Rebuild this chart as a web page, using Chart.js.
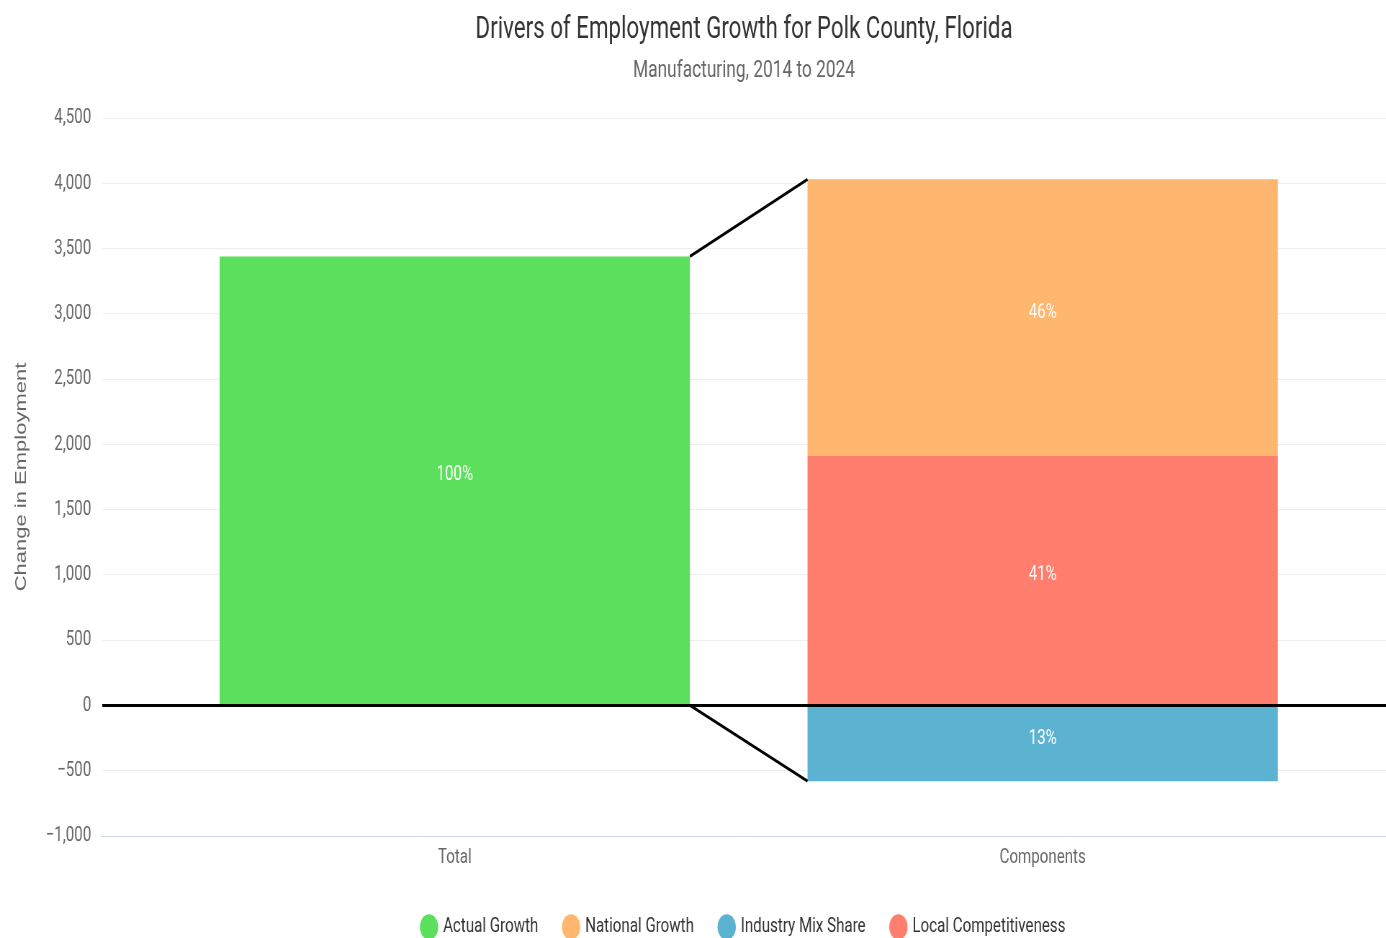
<!DOCTYPE html>
<html>
<head>
<meta charset="utf-8">
<title>Drivers of Employment Growth for Polk County, Florida</title>
<script src="https://cdn.jsdelivr.net/npm/chart.js@4.4.1/dist/chart.umd.min.js"></script>
<style>
  html, body { margin: 0; padding: 0; background: #fff; }
  #wrap { width: 1386px; height: 938px; overflow: hidden; }
  /* the reference is drawn horizontally condensed, so draw wide and squeeze */
  #chart { width: 1925px; height: 938px; transform: scaleX(0.72); transform-origin: 0 0; }
</style>
</head>
<body>
<div id="wrap"><canvas id="chart" width="1925" height="938"></canvas></div>
<script>
// Chart data
const categories = ["Total", "Components"];
const seriesNames = ["Actual Growth", "National Growth", "Industry Mix Share", "Local Competitiveness"];
const seriesColors = ["#5cdf5c", "#ffb76f", "#5cb3d1", "#ff7e6e"];

const actualGrowth = [3440];          // Total
const nationalGrowth = [2120];        // Components
const industryMixShare = [-580];      // Components
const localCompetitiveness = [1910];  // Components

const actualPct = [100];
const nationalPct = [46];
const industryPct = [13];
const localPct = [41];

const yTicks = [-1000, -500, 0, 500, 1000, 1500, 2000, 2500, 3000, 3500, 4000, 4500];

Chart.defaults.font.family = "Roboto, 'Noto Sans', sans-serif";
Chart.defaults.color = "#666";

// white percentage labels in the middle of each bar
const pctLabels = {
  id: "pctLabels",
  afterDatasetsDraw(chart) {
    const ctx = chart.ctx;
    ctx.save();
    ctx.fillStyle = "#fff";
    ctx.font = "21px Roboto";
    ctx.textAlign = "center";
    ctx.textBaseline = "middle";
    chart.data.datasets.forEach((ds, i) => {
      const meta = chart.getDatasetMeta(i);
      meta.data.forEach((bar, j) => {
        ctx.fillText(ds.pct[j] + "%", bar.x, (bar.y + bar.base) / 2 - 5);
      });
    });
    ctx.restore();
  }
};

// black lines joining the total bar to the top and bottom of the components stack
const connectors = {
  id: "connectors",
  afterDatasetsDraw(chart) {
    const ctx = chart.ctx;
    const total = chart.getDatasetMeta(0).data[0];
    const top = chart.getDatasetMeta(1).data[0];
    const bottom = chart.getDatasetMeta(2).data[0];
    const x0 = total.x + total.width / 2;
    const x1 = top.x - top.width / 2;
    const zero = chart.scales.y.getPixelForValue(0);
    ctx.save();
    ctx.strokeStyle = "#000";
    ctx.lineWidth = 3;
    ctx.beginPath();
    ctx.moveTo(x0, total.y);
    ctx.lineTo(x1, top.y);
    ctx.moveTo(x0, zero);
    ctx.lineTo(x1, bottom.y);
    ctx.stroke();
    ctx.restore();
  }
};

const toPoints = (vals, idx) => vals.map(v => ({ x: idx, y: v }));

new Chart(document.getElementById("chart"), {
  type: "bar",
  data: {
    datasets: [
      { label: seriesNames[0], data: toPoints(actualGrowth, 0), pct: actualPct, backgroundColor: seriesColors[0], order: 0 },
      { label: seriesNames[1], data: toPoints(nationalGrowth, 1), pct: nationalPct, backgroundColor: seriesColors[1], order: 2 },
      { label: seriesNames[2], data: toPoints(industryMixShare, 1), pct: industryPct, backgroundColor: seriesColors[2], order: 3 },
      { label: seriesNames[3], data: toPoints(localCompetitiveness, 1), pct: localPct, backgroundColor: seriesColors[3], order: 1 }
    ]
  },
  options: {
    responsive: false,
    devicePixelRatio: 1,
    animation: false,
    barPercentage: 0.8,
    categoryPercentage: 1,
    layout: { padding: { left: 0, right: 0, top: 0, bottom: -9.5 } },
    plugins: {
      title: {
        display: true,
        text: "Drivers of Employment Growth for Polk County, Florida",
        color: "#333",
        fullSize: false,
        font: { size: 31, weight: "normal" },
        padding: { top: 11.4, bottom: 0 }
      },
      subtitle: {
        display: true,
        text: "Manufacturing, 2014 to 2024",
        color: "#666",
        fullSize: false,
        font: { size: 24 },
        padding: { top: 8, bottom: 32.6 }
      },
      legend: {
        position: "bottom",
        fullSize: false,
        labels: {
          usePointStyle: true,
          pointStyle: "circle",
          boxWidth: 18,
          boxHeight: 18,
          padding: 36.5,
          color: "#333",
          font: { size: 21 },
          sort: (a, b) => a.datasetIndex - b.datasetIndex
        }
      },
      tooltip: { enabled: false }
    },
    scales: {
      x: {
        type: "linear",
        stacked: true,
        offset: false,
        min: -0.6,
        max: 1.584,
        afterBuildTicks: (scale) => {
          scale.ticks = categories.map((c, i) => ({ value: i }));
        },
        ticks: {
          callback: (v) => categories[v],
          padding: 2,
          maxRotation: 0,
          color: "#666",
          font: { size: 21, lineHeight: 40 / 21 }
        },
        grid: { display: false, drawTicks: false },
        border: { display: true, color: "#ccd6eb", width: 1 }
      },
      y: {
        stacked: true,
        min: yTicks[0],
        max: yTicks[yTicks.length - 1],
        afterBuildTicks: (scale) => {
          scale.ticks = yTicks.map(v => ({ value: v }));
        },
        afterFit: (scale) => { scale.width = 141.7; },
        ticks: {
          padding: 15,
          color: "#666",
          font: { size: 21 },
          callback: (v) => v.toLocaleString("en-US").replace("-", "\u2212")
        },
        grid: {
          drawTicks: false,
          color: (c) => c.tick.value === 0 ? "#000" : (c.tick.value === yTicks[0] ? "#ccd6eb" : "#eeeeee"),
          lineWidth: (c) => c.tick.value === 0 ? 3 : 1
        },
        border: { display: false },
        title: {
          display: true,
          text: "Change in Employment",
          color: "#666",
          font: { family: "'Liberation Sans', Arial, sans-serif", size: 22 },
          padding: { top: 17, bottom: 0 }
        }
      }
    }
  },
  plugins: [pctLabels, connectors]
});
</script>
</body>
</html>
